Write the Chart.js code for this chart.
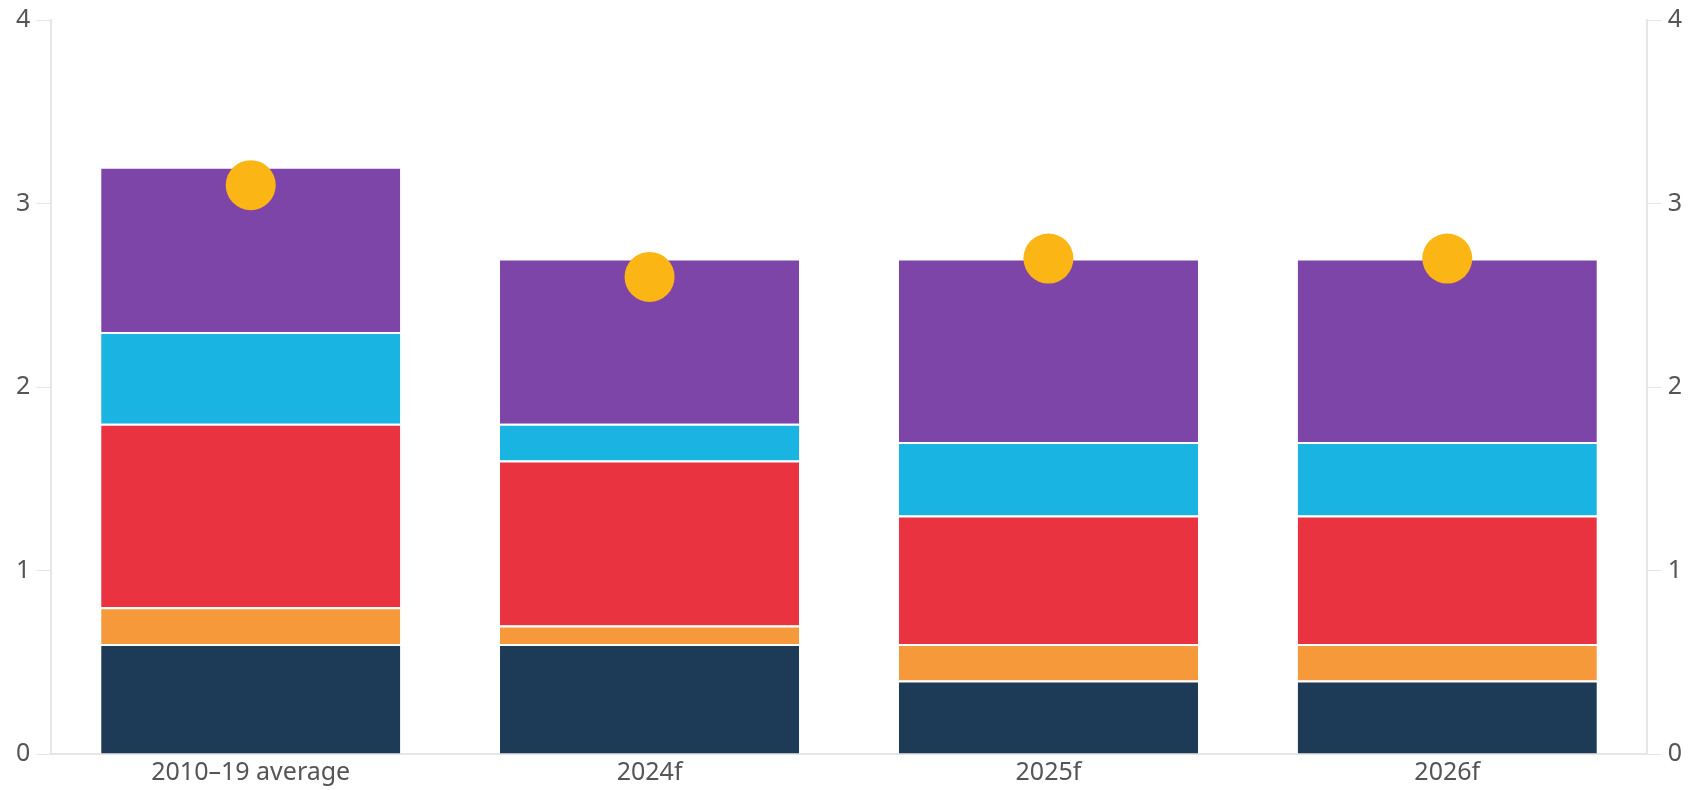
<!DOCTYPE html>
<html>
<head>
<meta charset="utf-8">
<script src="https://cdn.jsdelivr.net/npm/chart.js@4"></script>
<style>
    body { margin: 0; background: #fff; }
    #wrap { width: 1695px; height: 790px; }
</style>
</head>
<body>
<div id="wrap"><canvas id="chart"></canvas></div>
<script>
var categories = ["2010\u201319 average", "2024f", "2025f", "2026f"];

var navy_values = [0.6, 0.6, 0.4, 0.4];
var orange_values = [0.2, 0.1, 0.2, 0.2];
var red_values = [1.0, 0.9, 0.7, 0.7];
var cyan_values = [0.5, 0.2, 0.4, 0.4];
var purple_values = [0.9, 0.9, 1.0, 1.0];
var total_values = [3.1, 2.6, 2.7, 2.7];

var y_ticks = [0, 1, 2, 3, 4];

window.addEventListener("load", () => {
    renderChart();
});

function barSet(label, values, color) {
    return {
        type: "bar",
        label: label,
        data: values,
        backgroundColor: color,
        borderColor: "#ffffff",
        borderWidth: { top: 2, left: 0, right: 0, bottom: 0 },
        borderSkipped: false,
        stack: "bars",
        order: 1,
        yAxisID: "y"
    };
}

function renderChart() {
    const AXIS_COLOR = "#e6e6e6";
    const TEXT_COLOR = "#555555";
    const FONT = { family: "'Source Sans Pro', 'Noto Sans', sans-serif", size: 25 };

    let y_axis = (side) => {
        return {
            position: side,
            stacked: true,
            min: 0,
            max: 4,
            afterBuildTicks: (axis) => { axis.ticks = y_ticks.map((v) => { return { value: v } }); },
            // the top gap is set by layout.padding instead of label height
            afterFit: (axis) => { axis.paddingTop = 0; axis.paddingBottom = 0; },
            ticks: { color: TEXT_COLOR, font: FONT, padding: 6 },
            grid: { drawOnChartArea: false, color: AXIS_COLOR, tickLength: 15 },
            border: { color: AXIS_COLOR, width: 2 }
        }
    };

    let right_axis = y_axis("right");
    right_axis.stacked = false;

    new Chart(document.getElementById("chart"), {
        data: {
            labels: categories,
            datasets: [
                {
                    type: "line",
                    label: "Total",
                    data: total_values,
                    showLine: false,
                    pointRadius: 25,
                    pointHoverRadius: 25,
                    pointBackgroundColor: "#fbb514",
                    pointBorderWidth: 0,
                    stack: "dots",
                    order: 0,
                    yAxisID: "y"
                },
                barSet("Navy", navy_values, "#1d3a56"),
                barSet("Orange", orange_values, "#f5993a"),
                barSet("Red", red_values, "#ea3341"),
                barSet("Cyan", cyan_values, "#1ab4e3"),
                barSet("Purple", purple_values, "#7e45a8")
            ]
        },
        options: {
            responsive: true,
            maintainAspectRatio: false,
            animation: false,
            layout: { autoPadding: false, padding: { left: 10, right: 7, top: 20, bottom: -2 } },
            plugins: { legend: { display: false }, tooltip: { enabled: false } },
            datasets: { bar: { categoryPercentage: 1.0, barPercentage: 0.75 } },
            scales: {
                x: {
                    stacked: true,
                    ticks: { color: TEXT_COLOR, font: FONT, padding: 4 },
                    grid: { display: false, drawTicks: false },
                    border: { color: AXIS_COLOR, width: 2 }
                },
                y: y_axis("left"),
                y2: right_axis
            }
        }
    });
}
</script>
</body>
</html>
